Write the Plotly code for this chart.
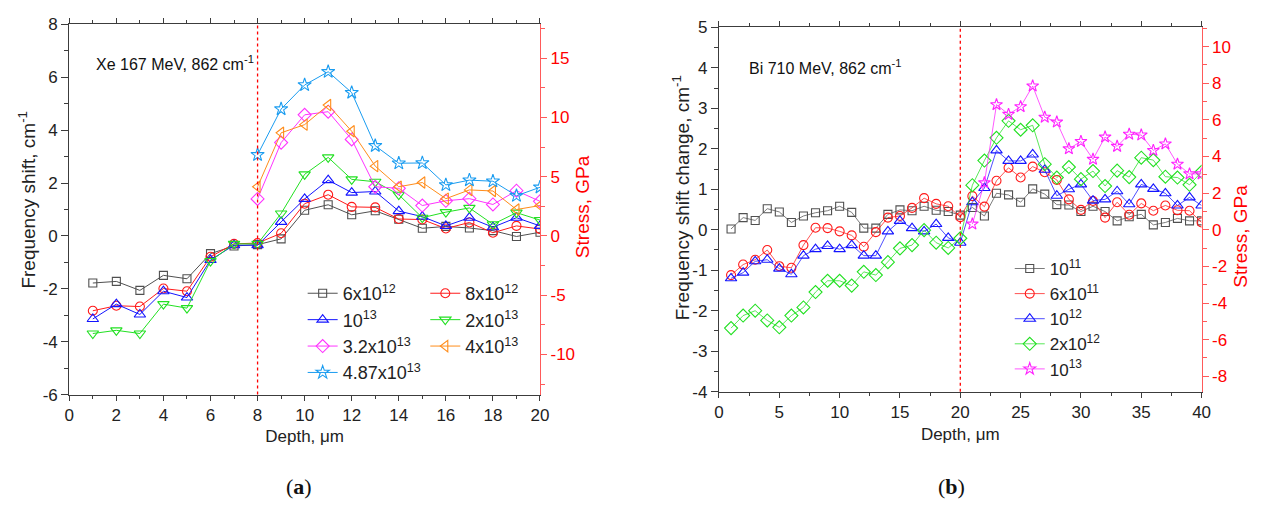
import plotly.graph_objects as go

# ---------------- data: panel (a) Xe 167 MeV ----------------
depth_a = list(range(1, 21))
depth_a_hi = list(range(8, 21))
a_6e12 = [-1.78, -1.72, -2.06, -1.49, -1.62, -0.67, -0.38, -0.33, -0.11, 0.97,
          1.18, 0.80, 0.95, 0.63, 0.29, 0.36, 0.30, 0.20, -0.02, 0.14]
a_8e12 = [-2.83, -2.64, -2.67, -1.99, -2.09, -0.79, -0.30, -0.27, 0.10, 1.22,
          1.56, 1.10, 1.08, 0.64, 0.62, 0.28, 0.51, 0.12, 0.38, 0.26]
a_1e13 = [-3.14, -2.58, -2.97, -2.09, -2.33, -0.91, -0.35, -0.35, 0.53, 1.40,
          2.11, 1.64, 1.68, 0.94, 0.73, 0.38, 0.69, 0.33, 0.69, 0.38]
a_2e13 = [-3.69, -3.57, -3.69, -2.58, -2.73, -0.95, -0.30, -0.30, 0.85, 2.33,
          2.97, 2.14, 2.05, 1.56, 0.69, 0.90, 1.06, 0.44, 0.88, 0.60]
a_32e13 = [1.40, 3.53, 4.58, 4.70, 3.65, 1.86, 1.80, 1.15, 1.33, 1.41, 1.19, 1.71, 1.31]
a_4e13 = [1.86, 3.90, 4.21, 4.95, 3.96, 2.64, 1.86, 2.02, 1.41, 1.74, 1.70, 1.00, 1.15]
a_487e13 = [3.07, 4.80, 5.71, 6.21, 5.42, 3.41, 2.75, 2.76, 1.93, 2.11, 2.07, 1.52, 1.84]
boundary_a = 8

# ---------------- data: panel (b) Bi 710 MeV ----------------
depth_b = list(range(1, 41))
depth_b_hi = list(range(21, 41))
b_1e11 = [0.02, 0.30, 0.23, 0.52, 0.44, 0.18, 0.34, 0.42, 0.47, 0.58,
          0.43, 0.04, 0.04, 0.38, 0.49, 0.47, 0.58, 0.48, 0.45, 0.36,
          0.55, 0.34, 0.90, 0.86, 0.68, 1.01, 0.88, 0.62, 0.61, 0.45,
          0.58, 0.45, 0.22, 0.32, 0.38, 0.12, 0.18, 0.28, 0.22, 0.22]
b_6e11 = [-1.12, -0.86, -0.74, -0.50, -0.90, -0.94, -0.38, 0.05, 0.04, -0.04,
          -0.14, -0.42, -0.06, 0.30, 0.34, 0.54, 0.78, 0.64, 0.58, 0.31,
          0.83, 0.57, 1.21, 1.53, 1.29, 1.56, 1.42, 1.23, 0.75, 0.49,
          0.71, 0.30, 0.68, 0.37, 0.65, 0.47, 0.60, 0.48, 0.47, 0.18]
b_1e12 = [-1.20, -1.06, -0.78, -0.74, -0.96, -1.10, -0.64, -0.48, -0.40, -0.48,
          -0.38, -0.64, -0.64, -0.04, 0.22, 0.04, -0.04, 0.14, -0.20, -0.32,
          0.68, 1.03, 1.96, 1.70, 1.70, 1.86, 1.48, 0.84, 1.00, 1.12,
          0.72, 0.75, 0.95, 0.63, 1.12, 1.01, 0.90, 0.60, 0.80, 0.60]
b_2e12 = [-2.43, -2.12, -2.00, -2.24, -2.41, -2.12, -1.92, -1.54, -1.26, -1.26,
          -1.38, -1.04, -1.12, -0.80, -0.46, -0.38, -0.01, -0.32, -0.45, -0.21,
          1.10, 1.71, 2.27, 2.69, 2.47, 2.58, 1.62, 1.29, 1.55, 1.25,
          1.45, 1.08, 1.46, 1.30, 1.78, 1.72, 1.31, 1.29, 1.11, 1.43]
b_1e13 = [0.14, 1.16, 3.09, 2.85, 3.04, 3.55, 2.78, 2.66, 2.00, 2.18,
          1.74, 2.29, 2.06, 2.36, 2.34, 1.96, 2.12, 1.62, 1.38, 1.38]
boundary_b = 20

# axis ranges / tick values (labels written with a plain hyphen as in the figure)
range_a = [-6, 8]
range_b = [-4, 5]
ticks_ya = [-6, -4, -2, 0, 2, 4, 6, 8]
ticks_yb = [-4, -3, -2, -1, 0, 1, 2, 3, 4, 5]
ticks_sa = [-10, -5, 0, 5, 10, 15]
ticks_sb = [-8, -6, -4, -2, 0, 2, 4, 6, 8, 10]
# stress conversion (GPa per cm-1) used for the right-hand axes
stress_per_cm_a = 2.23
stress_per_cm_b = 2.21

# ---------------- styling ----------------
FONT = "Liberation Sans, Arial, sans-serif"
AXC = "#3c3c3c"
RED = "#ff0000"
W, H = 1263, 527

def px(x):
    return x / W

def py(y):
    return (H - y) / H

series_a = [
    ("6x10<sup>12</sup>", depth_a, a_6e12, "#505050", "square-open", "legend", 8),
    ("8x10<sup>12</sup>", depth_a, a_8e12, "#ff1a1a", "circle-open", "legend2", 9),
    ("10<sup>13</sup>", depth_a, a_1e13, "#1414ff", "triangle-up-open", "legend", 10),
    ("2x10<sup>13</sup>", depth_a, a_2e13, "#22e022", "triangle-down-open", "legend2", 10),
    ("3.2x10<sup>13</sup>", depth_a_hi, a_32e13, "#ff33ff", "diamond-open", "legend", 10),
    ("4x10<sup>13</sup>", depth_a_hi, a_4e13, "#ff8c1a", "triangle-left-open", "legend2", 10),
    ("4.87x10<sup>13</sup>", depth_a_hi, a_487e13, "#1a9cf0", "star-open", "legend", 10),
]
series_b = [
    ("10<sup>11</sup>", depth_b, b_1e11, "#505050", "square-open", 8),
    ("6x10<sup>11</sup>", depth_b, b_6e11, "#ff1a1a", "circle-open", 9),
    ("10<sup>12</sup>", depth_b, b_1e12, "#1414ff", "triangle-up-open", 10),
    ("2x10<sup>12</sup>", depth_b, b_2e12, "#22e022", "diamond-open", 10),
    ("10<sup>13</sup>", depth_b_hi, b_1e13, "#ff22ff", "star-open", 9),
]

fig = go.Figure()
for name, xs, ys, col, sym, lg, sz in series_a:
    fig.add_trace(go.Scatter(
        x=xs, y=ys, name=name, mode="lines+markers", xaxis="x", yaxis="y",
        line=dict(color=col, width=1), legend=lg,
        marker=dict(symbol=sym, size=sz, color=col, line=dict(width=1.1, color=col))))
for name, xs, ys, col, sym, sz in series_b:
    fig.add_trace(go.Scatter(
        x=xs, y=ys, name=name, mode="lines+markers", xaxis="x2", yaxis="y3",
        line=dict(color=col, width=0.75), legend="legend3",
        marker=dict(symbol=sym, size=sz, color=col, line=dict(width=1.1, color=col))))
# empty traces so the stress axes get drawn
fig.add_trace(go.Scatter(x=[], y=[], xaxis="x", yaxis="y2", showlegend=False, hoverinfo="skip"))
fig.add_trace(go.Scatter(x=[], y=[], xaxis="x2", yaxis="y4", showlegend=False, hoverinfo="skip"))

tickfont = dict(family=FONT, size=17, color="#222")
redfont = dict(family=FONT, size=17, color=RED)
titlefont = dict(family=FONT, size=17, color="#222")

def xax(domain, rng, dtick, minor, anchor):
    return dict(domain=domain, range=rng, dtick=dtick, tick0=0, anchor=anchor,
                showline=True, linecolor=AXC, linewidth=1.2, mirror="ticks",
                ticks="outside", ticklen=5, tickwidth=1, tickcolor=AXC,
                minor=dict(dtick=minor, tick0=0, ticks="outside", ticklen=3, tickcolor=AXC),
                showgrid=False, zeroline=False, tickfont=tickfont,
                title=dict(text="Depth, \u03bcm", font=titlefont, standoff=6))

def yax(domain, rng, tv, minor, anchor):
    return dict(domain=domain, range=rng, tickmode="array", tickvals=tv,
                ticktext=[str(v) for v in tv], anchor=anchor,
                showline=True, linecolor=AXC, linewidth=1.2,
                ticks="outside", ticklen=7, tickwidth=1, tickcolor=AXC,
                minor=dict(dtick=minor, tick0=0, ticks="outside", ticklen=4, tickcolor=AXC),
                showgrid=False, zeroline=False, tickfont=tickfont)

def sax(rng, tv, minor, anchor, overlay):
    return dict(range=rng, tickmode="array", tickvals=tv, ticktext=[str(v) for v in tv],
                anchor=anchor, overlaying=overlay, side="right",
                showline=True, linecolor="#ff5a5a", linewidth=1.2,
                ticks="outside", ticklen=6, tickwidth=1, tickcolor="#ff5a5a",
                minor=dict(dtick=minor, tick0=0, ticks="outside", ticklen=4, tickcolor="#ff5a5a"),
                showgrid=False, zeroline=False, tickfont=redfont)

dom_ax = [px(65), px(541)]
dom_ay = [py(400), py(16)]
dom_bx = [px(722), px(1210)]
dom_by = [py(397), py(19)]

fig.update_layout(
    width=W, height=H, margin=dict(l=0, r=0, t=0, b=0),
    paper_bgcolor="white", plot_bgcolor="white",
    font=dict(family=FONT, size=14, color="#222"),
    xaxis=xax(dom_ax, [0, 20], 2, 1, "y"),
    yaxis=yax(dom_ay, range_a, ticks_ya, 1, "x"),
    yaxis2=sax([range_a[0] * stress_per_cm_a, range_a[1] * stress_per_cm_a], ticks_sa, 2.5, "x", "y"),
    xaxis2=xax(dom_bx, [0, 40], 5, 2.5, "y3"),
    yaxis3=yax(dom_by, range_b, ticks_yb, 0.5, "x2"),
    yaxis4=sax([range_b[0] * stress_per_cm_b, range_b[1] * stress_per_cm_b], ticks_sb, 1, "x2", "y3"),
    legend=dict(x=px(301), y=py(276), xanchor="left", yanchor="top", bgcolor="rgba(0,0,0,0)",
                font=dict(family=FONT, size=18, color="#222"), tracegroupgap=0, traceorder="normal"),
    legend2=dict(x=px(425), y=py(276), xanchor="left", yanchor="top", bgcolor="rgba(0,0,0,0)",
                 font=dict(family=FONT, size=18, color="#222"), tracegroupgap=0, traceorder="normal"),
    legend3=dict(x=px(1016), y=py(251), xanchor="left", yanchor="top", bgcolor="rgba(0,0,0,0)",
                 font=dict(family=FONT, size=17, color="#222"), tracegroupgap=0, traceorder="normal"),
    showlegend=True,
)

fig.add_shape(type="line", xref="x", yref="y domain", x0=boundary_a, x1=boundary_a, y0=0, y1=1,
              line=dict(color=RED, width=1.3, dash="dot"))
fig.add_shape(type="line", xref="x2", yref="y3 domain", x0=boundary_b, x1=boundary_b, y0=0, y1=1,
              line=dict(color=RED, width=1.3, dash="dot"))

def note(text, x, y, size=16, color="#111", angle=0, family=FONT, xanchor="left"):
    fig.add_annotation(text=text, xref="paper", yref="paper", x=px(x), y=py(y),
                       xanchor=xanchor, yanchor="middle", showarrow=False, textangle=angle,
                       font=dict(family=family, size=size, color=color))

note("Xe 167 MeV, 862 cm<sup>-1</sup>", 90, 56)
note("Bi 710 MeV, 862 cm<sup>-1</sup>", 750, 60)
# axis titles
note("Frequency shift, cm<sup>-1</sup>", 22, 198, size=19, color="#222", angle=-90, xanchor="center")
note("Frequency shift change, cm<sup>-1</sup>", 684, 196, size=19, color="#222", angle=-90, xanchor="center")
note("Stress, GPa", 584, 205, size=19, color=RED, angle=-90, xanchor="center")
note("Stress, GPa", 1249, 236, size=19, color=RED, angle=-90, xanchor="center")
# panel labels
note("(<b>a</b>)", 297, 495, size=22, family="Liberation Serif, DejaVu Serif, serif", xanchor="center")
note("(<b>b</b>)", 957, 495, size=22, family="Liberation Serif, DejaVu Serif, serif", xanchor="center")

fig.write_html("out.html", config={"displayModeBar": False},
               post_script="document.body.style.margin='0px';")
